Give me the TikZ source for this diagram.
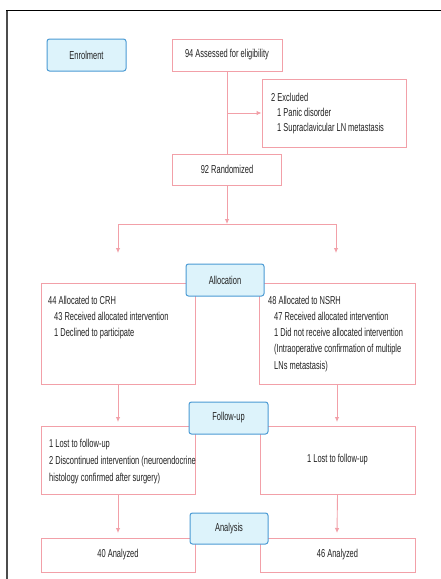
\documentclass[tikz,border=0pt]{standalone}
\usepackage{fontspec}
\setmainfont{Liberation Sans}[FakeStretch=0.65]
\usetikzlibrary{arrows.meta}
\definecolor{pk}{HTML}{F2A0A8}
\definecolor{bl}{HTML}{4A9AD4}
\definecolor{blf}{HTML}{DDF3FB}
\definecolor{tx}{HTML}{222222}
\begin{document}
\begin{tikzpicture}[x=1pt,y=-1pt,
  font=\fontsize{11.5}{16.3}\selectfont, text=tx,
  box/.style={draw=pk, line width=0.9pt, inner sep=0pt, rectangle, fill=white},
  stage/.style={draw=bl, fill=blf, rounded corners=2.5pt, line width=1pt, inner sep=0pt},
  txt/.style={inner sep=0pt, align=left, anchor=north west},
  conn/.style={draw=pk, line width=0.9pt},
  arr/.style={conn, -{Latex[length=5pt,width=4.5pt]}}]
\useasboundingbox (0,0) rectangle (441,579);
\fill[white] (0,0) rectangle (441,579);
% frame
\draw[black!70, line width=2pt] (7,579) -- (7,10);
\draw[black, line width=1pt] (6,10) -- (441,10);

% pink boxes
\node[box, minimum width=110pt, minimum height=32pt] (assess) at (227,55) {94 Assessed for eligibility};
\node[box, minimum width=144pt, minimum height=68pt] (excl) at (334,113) {};
\node[box, minimum width=109pt, minimum height=31pt] (rand) at (227,169.5) {92 Randomized};
\node[box, minimum width=154pt, minimum height=101pt] (crh) at (118,333.5) {};
\node[box, minimum width=156pt, minimum height=101pt] (nsrh) at (337,333.5) {};
\node[box, minimum width=154pt, minimum height=68pt] (ful) at (118,460) {};
\node[box, minimum width=155pt, minimum height=68pt] (fur) at (337.5,460) {1 Lost to follow-up};
\node[box, minimum width=154pt, minimum height=34pt] (anl) at (118,555) {40 Analyzed};
\node[box, minimum width=155pt, minimum height=34pt] (anr) at (337.5,555) {46 Analyzed};

% texts in boxes
\node[txt, font=\fontsize{11.5}{15}\selectfont] (excltxt) at (271,92.5) {2 Excluded\\
  \hspace*{6pt}1 Panic disorder\\
  \hspace*{6pt}1 Supraclavicular LN metastasis};
\node[txt] (crhtxt) at (48,295.5) {44 Allocated to CRH\\
  \hspace*{6pt}43 Received allocated intervention\\
  \hspace*{6pt}1 Declined to participate};
\node[txt] (nsrhtxt) at (268,295.5) {48 Allocated to NSRH\\
  \hspace*{6pt}47 Received allocated intervention\\
  \hspace*{6pt}1 Did not receive allocated intervention\\
  \hspace*{6pt}(Intraoperative confirmation of multiple\\
  \hspace*{6pt}LNs metastasis)};
\node[txt, font=\fontsize{11.5}{17}\selectfont] (fultxt) at (49,438.5) {1 Lost to follow-up\\
  2 Discontinued intervention (neuroendocrine\\
  histology confirmed after surgery)};

% stage boxes
\node[stage, minimum width=79pt, minimum height=32pt] (enrol) at (86.5,55) {Enrolment};
\node[stage, minimum width=78pt, minimum height=32pt] (alloc) at (225,280) {Allocation};
\node[stage, minimum width=79pt, minimum height=32pt] (follow) at (228.5,418) {Follow-up};
\node[stage, minimum width=78pt, minimum height=31pt] (analysis) at (229,528.5) {Analysis};

% connectors
\coordinate (bx) at (227,113);
\coordinate (split) at (227,224);
\coordinate (bl) at (118,224);
\coordinate (br) at (336,224);
\coordinate (tl) at (118,253);
\coordinate (tr) at (336,253);
\coordinate (fl) at (118,422);
\coordinate (fr) at (337,422);
\coordinate (al) at (118,533);
\coordinate (ar) at (337,533);
\draw[conn] (assess.south) -- (rand.north);
\draw[arr] (bx) -- (excl.west);
\draw[arr] (rand.south) -- (split);
\draw[conn] (bl) -- (br);
\draw[arr] (bl) -- (tl);
\draw[arr] (br) -- (tr);
\draw[arr] (crh.south) -- (fl);
\draw[arr] (nsrh.south) -- (fr);
\draw[arr] (ful.south) -- (al);
\draw[arr] (fur.south) -- (ar);
\end{tikzpicture}
\end{document}
